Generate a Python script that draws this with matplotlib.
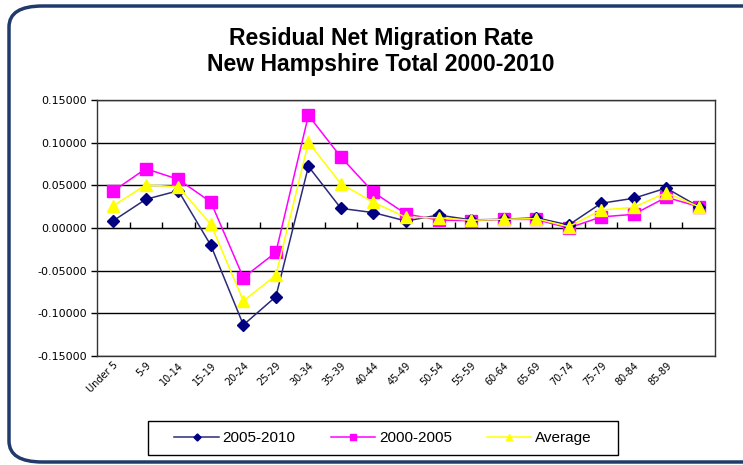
import matplotlib
matplotlib.use("Agg")
import matplotlib.pyplot as plt
from matplotlib.patches import FancyBboxPatch, Rectangle
from matplotlib.ticker import FormatStrFormatter, MultipleLocator

categories = ["Under 5", "5-9", "10-14", "15-19", "20-24", "25-29", "30-34", "35-39",
              "40-44", "45-49", "50-54", "55-59", "60-64", "65-69", "70-74", "75-79",
              "80-84", "85-89", ""]
s2005_2010 = [0.0085, 0.0336, 0.0437, -0.0203, -0.1136, -0.0804, 0.0722, 0.0230,
              0.0180, 0.0082, 0.0152, 0.0095, 0.0102, 0.0120, 0.0035, 0.0290,
              0.0348, 0.0468, 0.0250]
s2000_2005 = [0.0433, 0.0695, 0.0570, 0.0304, -0.0582, -0.0285, 0.1320, 0.0831,
              0.0418, 0.0164, 0.0094, 0.0085, 0.0102, 0.0100, 0.0000, 0.0130,
              0.0160, 0.0360, 0.0250]
s_average = [0.0260, 0.0504, 0.0484, 0.0043, -0.0855, -0.0554, 0.1003, 0.0519,
             0.0300, 0.0125, 0.0120, 0.0090, 0.0102, 0.0110, 0.0015, 0.0210,
             0.0242, 0.0414, 0.0250]
series_names = ["2005-2010", "2000-2005", "Average"]

W, H = 743, 465
fig = plt.figure(figsize=(W / 100, H / 100), dpi=100)
fig.patch.set_facecolor("white")

# rounded outer border
border = FancyBboxPatch((9 / W, 1 - 462 / H), (800 - 9) / W, (462 - 6) / H,
                        boxstyle="round,pad=0,rounding_size=0.045",
                        transform=fig.transFigure, facecolor="none",
                        edgecolor="#1F3A6B", linewidth=2.5, clip_on=False)
fig.patches.append(border)

ax = fig.add_axes([97 / W, 1 - 356 / H, (715 - 97) / W, (356 - 100) / H])
x = list(range(len(categories)))

ax.plot(x, s2005_2010, color="#2B2B7A", lw=1.1, marker="D", ms=6,
        mfc="#000080", mec="#000080", label=series_names[0], zorder=5)
ax.plot(x, s2000_2005, color="#FF00FF", lw=1.1, marker="s", ms=8,
        mfc="#FF00FF", mec="#FF00FF", label=series_names[1], zorder=4)
ax.plot(x, s_average, color="#FFFF00", lw=1.1, marker="^", ms=8,
        mfc="#FFFF00", mec="#FFFF00", label=series_names[2], zorder=6)

ax.set_xlim(-0.5, len(categories) - 0.5)
ax.set_ylim(-0.15, 0.15)
ax.yaxis.set_major_locator(MultipleLocator(0.05))
ax.yaxis.set_major_formatter(FormatStrFormatter("%.5f"))
ax.grid(axis="y", color="black", lw=1.0, zorder=0)
ax.set_axisbelow(True)
for sp in ax.spines.values():
    sp.set_color("#333333")
    sp.set_linewidth(1.0)

ax.tick_params(axis="y", direction="out", length=4, width=1, labelsize=8,
               pad=3, colors="black")
ax.set_xticks(x)
ax.set_xticklabels(categories, rotation=45, ha="right", rotation_mode="anchor",
                   fontsize=7)
ax.tick_params(axis="x", length=0, pad=3)

# category-boundary ticks along the zero line
sec = ax.secondary_xaxis(0.5)
sec.set_xticks([i + 0.5 for i in range(len(categories) - 1)])
sec.set_xticklabels([])
sec.tick_params(direction="out", length=4, width=1, colors="black")
sec.spines["bottom"].set_visible(False)

fig.text(0.513, 1 - 38 / H, "Residual Net Migration Rate", ha="center", va="center",
         fontsize=16.6, fontweight="bold", family="Liberation Sans")
fig.text(0.513, 1 - 64 / H, "New Hampshire Total 2000-2010", ha="center", va="center",
         fontsize=16.6, fontweight="bold", family="Liberation Sans")

# legend box
fig.patches.append(Rectangle((148 / W, 1 - 455 / H), (618 - 148) / W, (455 - 421) / H,
                             transform=fig.transFigure, facecolor="white",
                             edgecolor="black", linewidth=1.0, zorder=2))
leg = fig.legend(loc="center", bbox_to_anchor=(383 / W, 1 - 438 / H), ncol=3,
                 frameon=False, markerscale=0.6,
                 handlelength=2.9, handletextpad=0.25, columnspacing=2.3,
                 prop={"family": "Liberation Sans", "size": 11})

fig.savefig("out.png", dpi=100, facecolor="white")
